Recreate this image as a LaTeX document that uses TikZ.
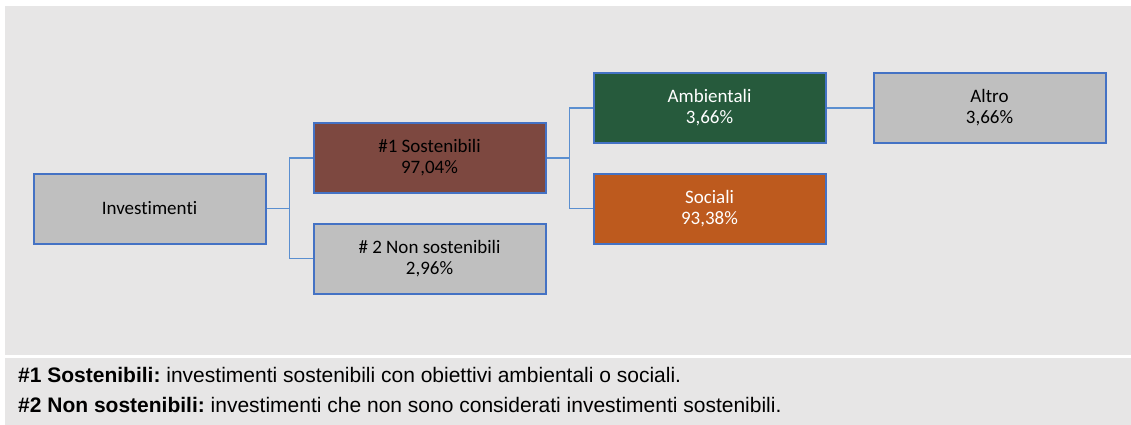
\documentclass[tikz,border=0pt]{standalone}
\usepackage{fontspec}
\setmainfont[Ligatures=NoCommon]{Carlito}
\newfontfamily\notefont{Liberation Sans}
\definecolor{bg}{HTML}{E7E6E6}
\definecolor{boxgray}{HTML}{BFBFBF}
\definecolor{bordblue}{HTML}{4472C4}
\definecolor{linkblue}{HTML}{5B8FD0}
\definecolor{brown}{HTML}{7D4840}
\definecolor{dgreen}{HTML}{265A3C}
\definecolor{orange}{HTML}{BD5A1E}
\tikzset{
  box/.style={draw=bordblue, line width=2pt, minimum width=232pt, minimum height=70pt,
    inner sep=0pt, align=center, font=\fontsize{19}{21}\selectfont},
  link/.style={draw=linkblue, line width=1.6pt},
  note/.style={anchor=base west, inner sep=0pt, font=\notefont\fontsize{21}{24}\selectfont\frenchspacing}
}
\begin{document}
\begin{tikzpicture}[x=1pt,y=-1pt]
\useasboundingbox (0,0) rectangle (1131,425);
\fill[white] (0,0) rectangle (1131,425);
\fill[bg] (5,6) rectangle (1131,354.5);
\fill[bg] (5,357.5) rectangle (1131,425);
\node[box, fill=boxgray] (inv) at (149.5,208.5) {Investimenti};
\node[box, fill=brown] (s1) at (429.5,158) {\#1 Sostenibili\\97,04\%};
\node[box, fill=boxgray] (s2) at (429.5,258.5) {\# 2 Non sostenibili\\2,96\%};
\node[box, fill=dgreen, text=white] (amb) at (709.5,108) {Ambientali\\3,66\%};
\node[box, fill=orange, text=white] (soc) at (709.5,208.5) {Sociali\\93,38\%};
\node[box, fill=boxgray] (alt) at (989.5,108) {Altro\\3,66\%};
\draw[link] (inv.east) -- ++(23,0) |- (s1.west);
\draw[link] (inv.east) -- ++(23,0) |- (s2.west);
\draw[link] (s1.east) -- ++(23,0) |- (amb.west);
\draw[link] (s1.east) -- ++(23,0) |- (soc.west);
\draw[link] (amb.east) -- (alt.west);
\node[note] (n1) at (18,382.5) {\textbf{\#1 Sostenibili:} investimenti sostenibili con obiettivi ambientali o sociali.};
\node[note] (n2) at (18,412.5) {\textbf{\#2 Non sostenibili:} investimenti che non sono considerati investimenti sostenibili.};
\end{tikzpicture}
\end{document}
